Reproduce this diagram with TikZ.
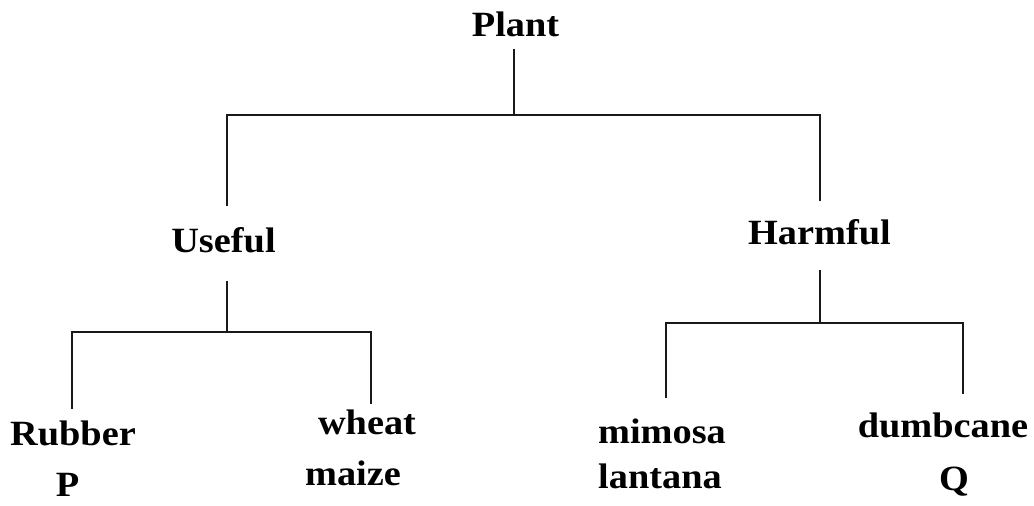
\documentclass[tikz,border=0pt]{standalone}
\usepackage{fontspec}
\setmainfont{Liberation Serif}[FakeStretch=1.08]
\begin{document}
\begin{tikzpicture}[x=1pt,y=-1pt,
  lbl/.style={anchor=base,inner sep=0pt,font=\fontsize{35.5}{40}\selectfont\bfseries},
  conn/.style={line width=2pt,line cap=rect,black!90}]
\useasboundingbox[fill=white] (0,0) rectangle (1034,506);
% labels
\node[lbl] (plant) at (515.5,36) {Plant};
\node[lbl] (useful) at (223.5,252) {Useful};
\node[lbl] (harmful) at (819.5,244) {Harmful};
\node[lbl] (rubber) at (73,445) {Rubber};
\node[lbl] (p) at (67.5,496) {P};
\node[lbl] (wheat) at (367,434) {wheat};
\node[lbl] (maize) at (353,485) {maize};
\node[lbl] (mimosa) at (662,443) {mimosa};
\node[lbl] (lantana) at (660,488) {lantana};
\node[lbl] (dumbcane) at (943,437) {dumbcane};
\node[lbl] (q) at (954,490) {Q};
% connector points
\coordinate (plantb) at (514,50);
\coordinate (j1) at (514,115);
\coordinate (l1) at (227,115);
\coordinate (r1) at (820,115);
\coordinate (usefult) at (227,205);
\coordinate (harmfult) at (820,200);
\coordinate (usefulb) at (227,282);
\coordinate (j2) at (227,332);
\coordinate (l2) at (72,332);
\coordinate (r2) at (371,332);
\coordinate (rubbert) at (72,408);
\coordinate (wheatt) at (371,403);
\coordinate (harmfulb) at (820,271);
\coordinate (j3) at (820,323);
\coordinate (l3) at (666,323);
\coordinate (r3) at (963,323);
\coordinate (mimosat) at (666,397);
\coordinate (dumbt) at (963,393);
% connectors
\draw[conn] (plantb) -- (j1);
\draw[conn] (usefult) -- (l1) -- (r1) -- (harmfult);
\draw[conn] (usefulb) -- (j2);
\draw[conn] (rubbert) -- (l2) -- (r2) -- (wheatt);
\draw[conn] (harmfulb) -- (j3);
\draw[conn] (mimosat) -- (l3) -- (r3) -- (dumbt);
\end{tikzpicture}
\end{document}
